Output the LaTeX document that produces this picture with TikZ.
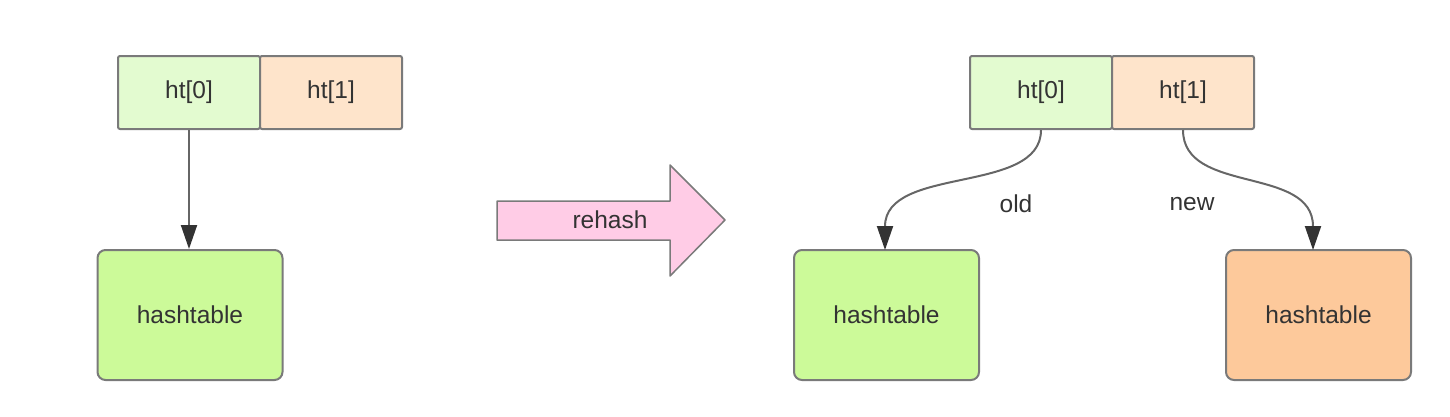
\documentclass[tikz,border=0pt]{standalone}
\usepackage{fontspec}
\setmainfont{Liberation Sans}
\usetikzlibrary{arrows.meta}
\definecolor{htzero}{HTML}{E3FBD0}
\definecolor{htone}{HTML}{FEE4CB}
\definecolor{hgreen}{HTML}{CCFA99}
\definecolor{horange}{HTML}{FDC99B}
\definecolor{hpink}{HTML}{FFCCE6}
\definecolor{bord}{HTML}{7A7A7A}
\definecolor{txt}{HTML}{333333}
\definecolor{lnk}{HTML}{666666}
\begin{document}
\begin{tikzpicture}[x=1pt,y=-1pt,
  every node/.style={font=\fontsize{24.5}{28}\selectfont, text=txt},
  slot/.style={draw=bord, line width=2pt, minimum width=142pt, minimum height=73pt, inner sep=0pt, rounded corners=2pt},
  tablebox/.style={draw=bord, line width=2pt, minimum width=185pt, minimum height=130pt, inner sep=0pt, rounded corners=8pt},
  link/.style={draw=lnk, line width=2pt, -{Triangle[width=16pt,length=24pt,color=txt,fill=txt]}},
  lbl/.style={inner sep=0pt}]
\useasboundingbox (0,0) rectangle (1450,416);
% left
\node[slot, fill=htzero] (l0) at (189,92.5) {ht[0]};
\node[slot, fill=htone] (l1) at (331,92.5) {ht[1]};
\node[tablebox, fill=hgreen] (lh) at (190,315) {hashtable};
\draw[link] (l0.south) -- (lh.north -| l0.south);
% rehash arrow
\draw[draw=bord, line width=1.5pt, fill=hpink, line join=round]
  (497,201) -- (670,201) -- (670,165) -- (725,220) -- (670,276) -- (670,240) -- (497,240) -- cycle;
\node[lbl] (rh) at (610,220) {rehash};
% right
\node[slot, fill=htzero] (r0) at (1041,92.5) {ht[0]};
\node[slot, fill=htone] (r1) at (1183,92.5) {ht[1]};
\node[tablebox, fill=hgreen] (rh1) at (886.5,315) {hashtable};
\node[tablebox, fill=horange] (rh2) at (1318.5,315) {hashtable};
\coordinate (t1) at (885,250);
\coordinate (t2) at (1313,250);
\draw[link] (r0.south) .. controls (1041,195) and (885,165) .. (t1);
\draw[link] (r1.south) .. controls (1183,195) and (1313,165) .. (t2);
\node[lbl] (old) at (1016,204) {old};
\node[lbl] (new) at (1192,204) {new};
\end{tikzpicture}
\end{document}
